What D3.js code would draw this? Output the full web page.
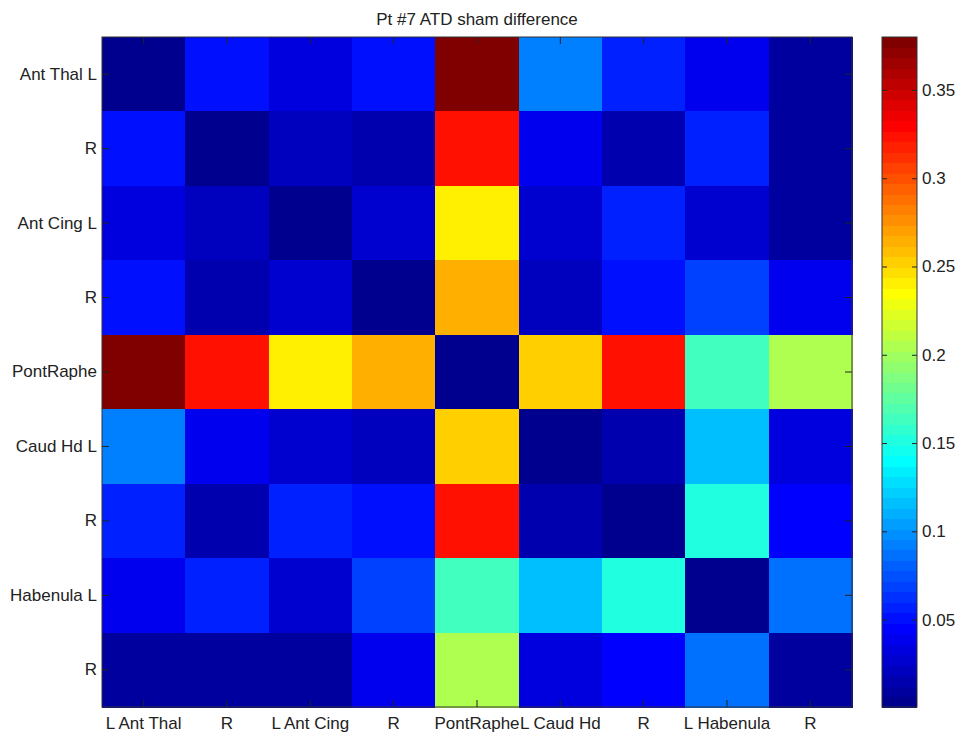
<!DOCTYPE html>
<html>
<head>
<meta charset="utf-8">
<script src="https://cdn.jsdelivr.net/npm/d3@7"></script>
<style>
  html, body { margin: 0; padding: 0; background: #fff; }
  svg { display: block; font-family: "Liberation Sans", Arial, Helvetica, sans-serif; }
  .axis text { font-size: 17px; fill: #222; }
  .axis line { stroke: #222; }
</style>
</head>
<body>
<svg id="chart" width="962" height="735"></svg>
<script>
// Region labels along each axis
const colLabels = ["L Ant Thal", "R", "L Ant Cing", "R", "PontRaphe", "L Caud Hd", "R", "L Habenula", "R"];
const rowLabels = ["Ant Thal L", "R", "Ant Cing L", "R", "PontRaphe", "Caud Hd L", "R", "Habenula L", "R"];

// Difference matrix (row = y region, column = x region)
const values = [
  [0.004, 0.051, 0.035, 0.049, 0.380, 0.091, 0.059, 0.042, 0.009],
  [0.051, 0.002, 0.023, 0.015, 0.325, 0.037, 0.015, 0.058, 0.007],
  [0.035, 0.023, 0.0005, 0.026, 0.243, 0.025, 0.058, 0.030, 0.008],
  [0.049, 0.015, 0.026, 0.005, 0.262, 0.024, 0.052, 0.070, 0.042],
  [0.380, 0.325, 0.243, 0.262, 0.003, 0.255, 0.321, 0.166, 0.208],
  [0.091, 0.037, 0.025, 0.024, 0.255, 0.005, 0.017, 0.118, 0.035],
  [0.059, 0.015, 0.058, 0.052, 0.321, 0.017, 0.003, 0.154, 0.043],
  [0.042, 0.058, 0.030, 0.070, 0.166, 0.118, 0.154, 0.003, 0.088],
  [0.009, 0.007, 0.008, 0.042, 0.208, 0.035, 0.043, 0.088, 0.007]
];

// Colorbar ticks
const cbarTicks = [0.05, 0.1, 0.15, 0.2, 0.25, 0.3, 0.35];
const cbarTickLabels = ["0.05", "0.1", "0.15", "0.2", "0.25", "0.3", "0.35"];

const titleText = "Pt #7 ATD sham difference";

// Layout
const plot = { left: 102, top: 37, right: 852, bottom: 707 };
const cbar = { left: 882, right: 917 };
const tickLen = 7;
const nColors = 64;

const svg = d3.select("#chart");

const flat = values.flat();
const cmin = d3.min(flat), cmax = d3.max(flat);

// 64-level jet colormap
function jet(i) { // i = 1..64
  const t = i / nColors;
  const c = v => Math.max(0, Math.min(1, v));
  const r = c(1.5 - Math.abs(4 * t - 3));
  const g = c(1.5 - Math.abs(4 * t - 2));
  const b = c(1.5 - Math.abs(4 * t - 1));
  return d3.rgb(r * 255, g * 255, b * 255).toString();
}
const levelScale = d3.scaleLinear().domain([cmin, cmax]).range([0, nColors]);
function colorOf(v) {
  const k = Math.min(nColors - 1, Math.max(0, Math.floor(levelScale(v))));
  return jet(k + 1);
}

const x = d3.scaleBand().domain(d3.range(colLabels.length)).range([plot.left, plot.right]).padding(0);
const y = d3.scaleBand().domain(d3.range(rowLabels.length)).range([plot.top, plot.bottom]).padding(0);

// Heatmap cells
const cells = [];
values.forEach((row, r) => row.forEach((v, c) => cells.push({ r, c, v })));
svg.append("g")
  .selectAll("rect")
  .data(cells)
  .join("rect")
  .attr("x", d => x(d.c))
  .attr("y", d => y(d.r))
  .attr("width", x.bandwidth() + 0.5)
  .attr("height", y.bandwidth() + 0.5)
  .attr("fill", d => colorOf(d.v))
  .attr("shape-rendering", "crispEdges");

// Axes with inward ticks on all four sides
function styleAxis(g) {
  g.select(".domain").remove();
  g.attr("class", "axis");
}
svg.append("g")
  .attr("transform", `translate(0,${plot.bottom})`)
  .call(d3.axisBottom(x).tickSizeInner(-tickLen).tickSizeOuter(0).tickPadding(10).tickFormat(i => colLabels[i]))
  .call(styleAxis);
svg.append("g")
  .attr("transform", `translate(0,${plot.top})`)
  .call(d3.axisTop(x).tickSizeInner(-tickLen).tickSizeOuter(0).tickFormat(""))
  .call(styleAxis);
svg.append("g")
  .attr("transform", `translate(${plot.left},0)`)
  .call(d3.axisLeft(y).tickSizeInner(-tickLen).tickSizeOuter(0).tickPadding(5).tickFormat(i => rowLabels[i]))
  .call(styleAxis);
svg.append("g")
  .attr("transform", `translate(${plot.right},0)`)
  .call(d3.axisRight(y).tickSizeInner(-tickLen).tickSizeOuter(0).tickFormat(""))
  .call(styleAxis);

// Plot frame
svg.append("rect")
  .attr("x", plot.left).attr("y", plot.top)
  .attr("width", plot.right - plot.left).attr("height", plot.bottom - plot.top)
  .attr("fill", "none").attr("stroke", "#333").attr("stroke-width", 1);

// Title
svg.append("text")
  .attr("x", (plot.left + plot.right) / 2)
  .attr("y", 25)
  .attr("text-anchor", "middle")
  .attr("font-size", 17)
  .attr("fill", "#222")
  .text(titleText);

// Colorbar
const cy = d3.scaleLinear().domain([cmin, cmax]).range([plot.bottom, plot.top]);
const bands = d3.range(nColors);
const bandH = (plot.bottom - plot.top) / nColors;
svg.append("g")
  .selectAll("rect")
  .data(bands)
  .join("rect")
  .attr("x", cbar.left)
  .attr("y", k => cy(cmin + (k + 1) * (cmax - cmin) / nColors))
  .attr("width", cbar.right - cbar.left)
  .attr("height", bandH + 0.5)
  .attr("fill", k => jet(k + 1))
  .attr("shape-rendering", "crispEdges");

svg.append("g")
  .attr("transform", `translate(${cbar.right},0)`)
  .call(d3.axisRight(cy).tickValues(cbarTicks).tickSizeInner(-5).tickSizeOuter(0).tickPadding(5)
    .tickFormat((d, i) => cbarTickLabels[i]))
  .call(styleAxis);
svg.append("g")
  .attr("transform", `translate(${cbar.left},0)`)
  .call(d3.axisLeft(cy).tickValues(cbarTicks).tickSizeInner(-5).tickSizeOuter(0).tickFormat(""))
  .call(styleAxis);
svg.selectAll(".axis text").attr("font-size", 17).attr("fill", "#222");

svg.append("rect")
  .attr("x", cbar.left).attr("y", plot.top)
  .attr("width", cbar.right - cbar.left).attr("height", plot.bottom - plot.top)
  .attr("fill", "none").attr("stroke", "#333").attr("stroke-width", 1);
</script>
</body>
</html>
